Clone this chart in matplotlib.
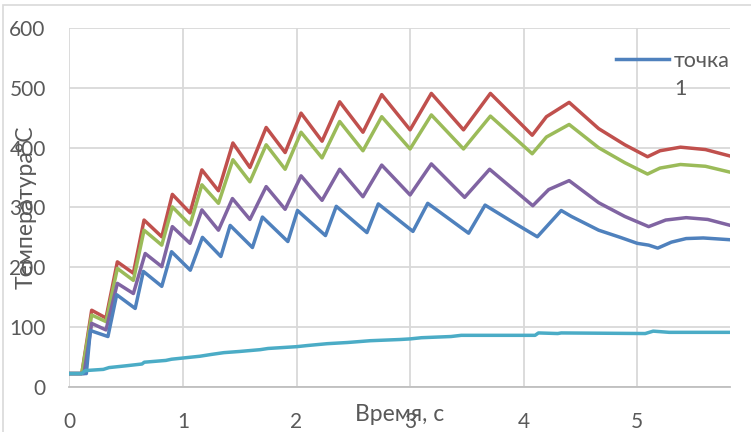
import matplotlib
matplotlib.use('Agg')
import matplotlib.pyplot as plt
from matplotlib.lines import Line2D
from matplotlib.patches import Rectangle

plt.rcParams['font.family'] = ['Lato', 'Open Sans', 'DejaVu Sans']

# series (time, s / temperature, C)
t_red = [0, 0.11, 0.197, 0.323, 0.423, 0.564, 0.658, 0.814, 0.907, 1.063, 1.167, 1.313,
         1.44, 1.59, 1.733, 1.90, 2.04, 2.225, 2.38, 2.585, 2.75, 3.0, 3.187, 3.47, 3.707,
         4.075, 4.2, 4.40, 4.66, 4.89, 5.09, 5.2, 5.38, 5.6, 5.82]
T_red = [22, 22, 128, 115, 209, 190, 279, 251, 322, 291, 363, 328,
         408, 367, 434, 392, 458, 411, 477, 426, 489, 430, 491, 430, 491,
         421, 452, 476, 432, 405, 385, 395, 401, 397, 386]

t_green = t_red
T_green = [22, 22, 120, 109, 198, 178, 262, 237, 301, 271, 338, 307,
           380, 343, 405, 364, 426, 383, 444, 395, 452, 398, 455, 398, 453,
           390, 418, 439, 400, 375, 356, 366, 372, 369, 359]

t_purple = [0, 0.13, 0.197, 0.323, 0.423, 0.564, 0.668, 0.814, 0.907, 1.063, 1.167, 1.313,
            1.436, 1.59, 1.733, 1.90, 2.04, 2.225, 2.38, 2.585, 2.75, 3.0, 3.187, 3.48, 3.70,
            4.08, 4.22, 4.40, 4.66, 4.89, 5.10, 5.25, 5.43, 5.62, 5.82]
T_purple = [22, 22, 106, 95, 173, 156, 223, 201, 268, 240, 296, 262,
            315, 280, 335, 297, 353, 312, 364, 318, 371, 321, 373, 317, 364,
            303, 330, 345, 308, 285, 268, 279, 283, 280, 270]

t_blue = [0, 0.15, 0.185, 0.34, 0.417, 0.58, 0.652, 0.814, 0.90, 1.065, 1.172, 1.334,
          1.416, 1.612, 1.70, 1.924, 2.009, 2.255, 2.35, 2.62, 2.72, 3.025, 3.155, 3.35,
          3.515, 3.66, 3.9, 4.12, 4.33, 4.42, 4.66, 4.85, 5.0, 5.1, 5.18, 5.3, 5.43, 5.58, 5.82]
T_blue = [22, 22, 94, 84, 154, 131, 193, 168, 226, 195, 250, 218,
          270, 233, 284, 243, 295, 253, 302, 258, 306, 260, 307, 280,
          257, 304, 276, 251, 295, 285, 262, 250, 240, 237, 232, 242, 248, 249, 246]

t_cyan = [0, 0.11, 0.14, 0.3, 0.35, 0.5, 0.64, 0.66, 0.85, 0.9, 1.0, 1.15, 1.25, 1.36,
          1.5, 1.68, 1.75, 2.0, 2.1, 2.27, 2.45, 2.65, 2.91, 3.0, 3.1, 3.36, 3.45, 4.1,
          4.13, 4.3, 4.33, 5.07, 5.14, 5.28, 5.82]
T_cyan = [22, 22, 27, 29, 32, 35, 38, 41, 44, 46, 48, 51, 54, 57,
          59, 62, 64, 67, 69, 72, 74, 77, 79, 80, 82, 84, 86, 86,
          90, 89, 90, 89, 93, 91, 91]

x_ticks = [0, 1, 2, 3, 4, 5]
y_ticks = [0, 100, 200, 300, 400, 500, 600]

fig = plt.figure(figsize=(7.51, 4.32), dpi=100)
ax = fig.add_axes([69.3 / 751, 1 - 386.7 / 432, (730 - 69.3) / 751, (386.7 - 28.3) / 432])

lw = 2.5
ax.plot(t_blue, T_blue, color='#4F81BD', lw=lw, zorder=5)
ax.plot(t_red, T_red, color='#C0504D', lw=lw, zorder=3)
ax.plot(t_green, T_green, color='#9BBB59', lw=lw, zorder=3)
ax.plot(t_purple, T_purple, color='#8064A2', lw=lw, zorder=4)
ax.plot(t_cyan, T_cyan, color='#4BACC6', lw=lw, zorder=6)

ax.set_xlim(0, 5.816)
ax.set_ylim(0, 600)
ax.set_xticks(x_ticks)
ax.set_yticks(y_ticks)
ax.grid(True, color='#D9D9D9', lw=1.3)
ax.set_axisbelow(True)
for s in ['top', 'right', 'left']:
    ax.spines[s].set_visible(False)
ax.spines['bottom'].set_color('#BFBFBF')
ax.spines['bottom'].set_linewidth(1.3)
ax.tick_params(length=0, labelsize=15, labelcolor='#595959')
ax.tick_params(axis='y', pad=17)
ax.tick_params(axis='x', pad=18)

ax.set_ylabel('Температура°С', fontsize=16.5, color='#595959')
ax.yaxis.set_label_coords(-0.050, 0.5)
ax.set_xlabel('Время, с', fontsize=16.5, color='#595959')
ax.xaxis.set_label_coords(0.5, -0.048)

handles = [Line2D([], [], color='#4F81BD', lw=lw), Line2D([], [], color='none')]
leg = ax.legend(handles, ['точка', '1'], loc='upper left', bbox_to_anchor=(0.828, 0.937),
                frameon=False, fontsize=15.5, handlelength=2.45, handletextpad=0.22,
                borderpad=0, borderaxespad=0, labelspacing=0.4)
for txt in leg.get_texts():
    txt.set_color('#595959')

fig.patches.append(Rectangle((3 / 751, -0.1), 1.2, 1 - 5 / 432 + 0.1, transform=fig.transFigure,
                             fill=False, edgecolor='#D9D9D9', lw=1.2))

fig.savefig('out.png', dpi=100)
